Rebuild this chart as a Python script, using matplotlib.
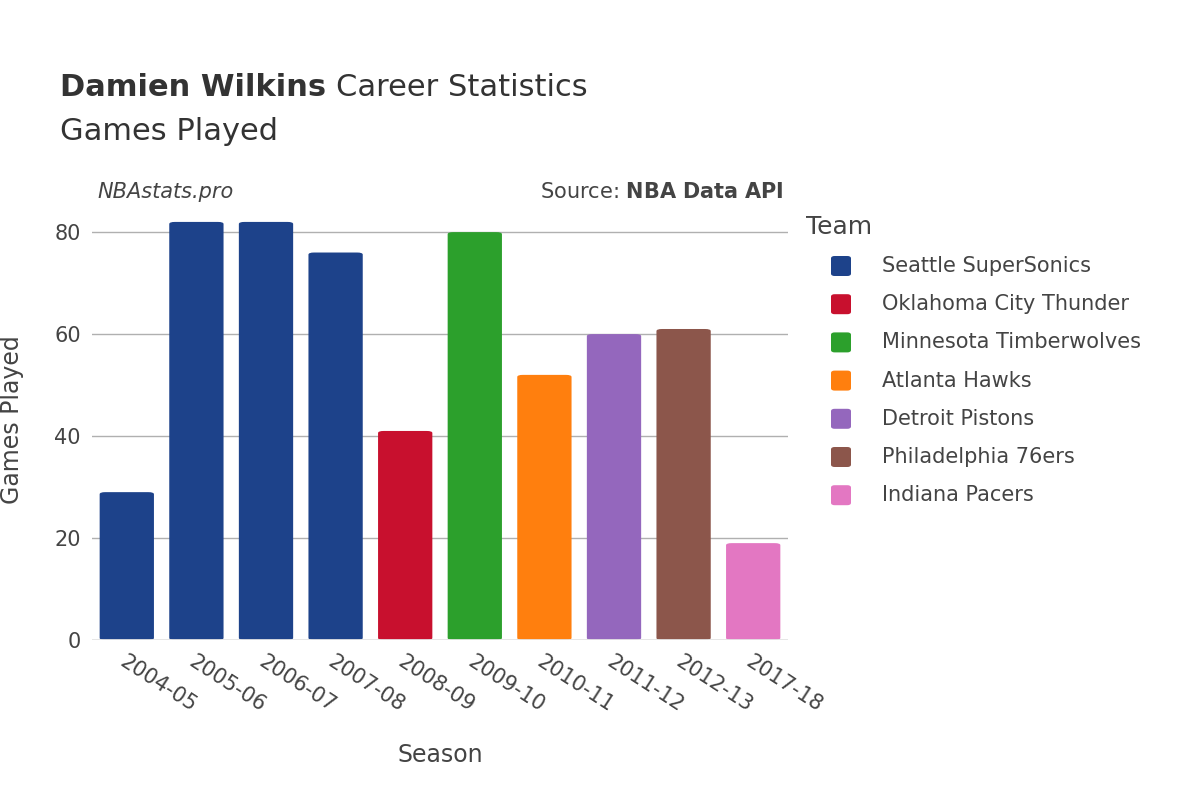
import matplotlib
matplotlib.use("Agg")
import matplotlib.pyplot as plt
from matplotlib.patches import FancyBboxPatch

seasons = ["2004-05","2005-06","2006-07","2007-08","2008-09","2009-10","2010-11","2011-12","2012-13","2017-18"]
games = [29, 82, 82, 76, 41, 80, 52, 60, 61, 19]
teams = ["Seattle SuperSonics","Seattle SuperSonics","Seattle SuperSonics","Seattle SuperSonics",
         "Oklahoma City Thunder","Minnesota Timberwolves","Atlanta Hawks","Detroit Pistons",
         "Philadelphia 76ers","Indiana Pacers"]
team_order = ["Seattle SuperSonics","Oklahoma City Thunder","Minnesota Timberwolves","Atlanta Hawks",
              "Detroit Pistons","Philadelphia 76ers","Indiana Pacers"]
team_colors = ["#1d428a","#c8102e","#2ca02c","#ff7f0e","#9467bd","#8c564b","#e377c2"]
cmap = dict(zip(team_order, team_colors))

fig = plt.figure(figsize=(12, 8), dpi=100)
ax = fig.add_axes([92/1200, 160/800, 696/1200, 440/800])
x = range(len(seasons))
for i, (g, t) in enumerate(zip(games, teams)):
    p = FancyBboxPatch((i - 0.39, 0), 0.78, g, boxstyle="round,pad=0,rounding_size=0.08",
                       mutation_aspect=5, facecolor=cmap[t], edgecolor="none", zorder=3)
    ax.add_patch(p)
ax.set_xlim(-0.5, len(seasons) - 0.5)
ax.set_ylim(0, 86.3)
ax.set_yticks([0, 20, 40, 60, 80])
ax.set_xticks(list(x))
ax.set_xticklabels(seasons, rotation=-33, ha="left", va="top", rotation_mode="anchor")
ax.tick_params(axis="both", length=0, labelsize=15, labelcolor="#444444", pad=8)
ax.grid(axis="y", color="#b0b0b0", linewidth=1, zorder=0)
ax.axhline(0, color="#e5e5e5", linewidth=2, zorder=4)
for s in ax.spines.values():
    s.set_visible(False)
ax.set_xlabel("Season", fontsize=17, color="#444444", labelpad=20)
ax.set_ylabel("Games Played", fontsize=17, color="#444444", labelpad=22)

t1 = fig.text(60/1200, 1 - 88/800, "Damien Wilkins", fontsize=22, fontweight="bold", color="#333333", va="center")
fig.canvas.draw()
bb = t1.get_window_extent()
fig.text(bb.x1 / 1200 + 0.008, 1 - 88/800, "Career Statistics", fontsize=22, color="#333333", va="center")
fig.text(60/1200, 1 - 132/800, "Games Played", fontsize=22, color="#333333", va="center")
fig.text(97/1200, 1 - 192/800, "NBAstats.pro", fontsize=15, style="italic", color="#444444", va="center")
fig.text(784/1200, 1 - 192/800, r"Source: $\bf{NBA\ Data\ API}$", fontsize=15, color="#444444", va="center", ha="right")

fig.text(806/1200, 1 - 227/800, "Team", fontsize=18, color="#444444", va="center")
for k, (name, c) in enumerate(zip(team_order, team_colors)):
    yp = 266 + k * 38.2
    fig.patches.append(FancyBboxPatch(((831)/1200, 1 - (yp + 10)/800), 20/1200, 20/800,
                                      boxstyle="round,pad=0,rounding_size=0.003",
                                      transform=fig.transFigure, facecolor=c, edgecolor="none"))
    fig.text(882/1200, 1 - yp/800, name, fontsize=15, color="#444444", va="center")

fig.savefig("out.png")
